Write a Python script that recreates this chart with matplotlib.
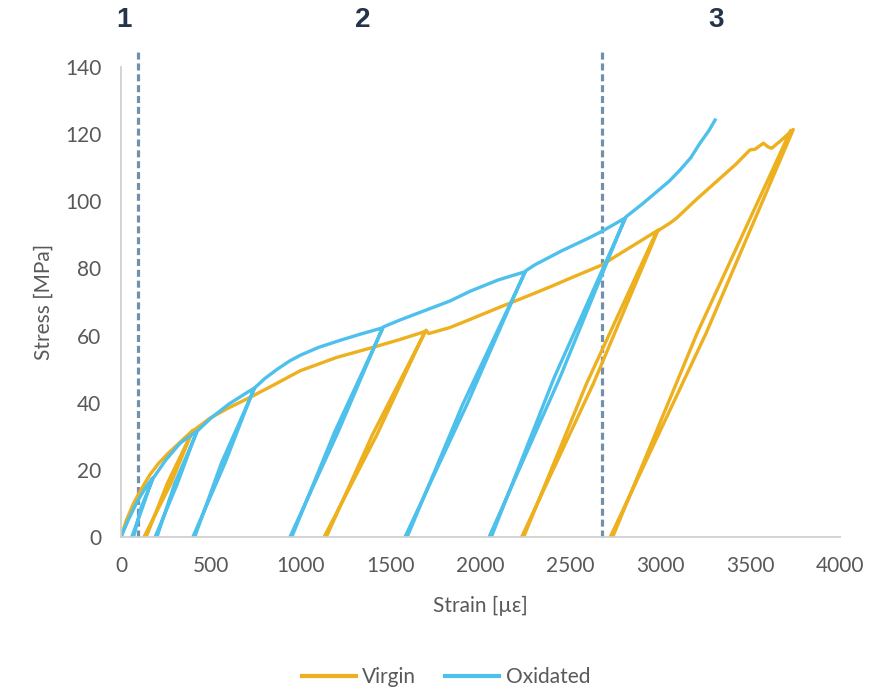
import matplotlib.pyplot as plt

# stress-strain paths with loading / unloading cycles
virgin_strain = [0, 30, 70, 110, 160, 210, 260, 330, 400,
                 278, 128, 140, 258, 398,
                 495, 600, 707, 850, 996, 1200, 1402, 1550, 1691,
                 1425, 1130, 1142, 1400, 1697, 1712,
                 1830, 1923, 2100, 2300, 2400, 2500, 2674, 2800, 2988,
                 2628, 2229, 2240, 2590, 2980,
                 3054, 3091, 3200, 3332, 3420, 3499, 3527, 3574, 3600, 3620, 3680, 3740,
                 3255, 2722, 2735, 3205, 3725]
virgin_stress = [0, 5, 10, 14, 18.5, 22, 24.8, 28.3, 31.8,
                 16, 0, 0, 16, 31.5,
                 35.4, 38.5, 41.3, 45.3, 49.5, 53.5, 56.5, 58.8, 61.2,
                 30.6, 0, 0, 30.6, 61.6, 60.6,
                 62.4, 64.4, 68.3, 72.6, 74.8, 77.1, 81, 85.2, 91.4,
                 45.7, 0, 0, 45.7, 91,
                 93.5, 95, 100.5, 106.8, 111, 115.3, 115.5, 117.3, 116.2, 115.8, 118.5, 121.4,
                 60.7, 0, 0, 60.7, 121]

oxidated_strain = [0, 40, 90, 140, 175,
                   120, 60, 70, 112, 180,
                   250, 330, 421,
                   313, 190, 200, 298, 425,
                   500, 600, 700, 740,
                   580, 400, 410, 560, 745,
                   800, 870, 940, 1000, 1100, 1220, 1330, 1455,
                   1207, 940, 950, 1188, 1460,
                   1550, 1663, 1830, 1942, 2100, 2247,
                   1925, 1580, 1592, 1901, 2252,
                   2300, 2450, 2600, 2674, 2804,
                   2442, 2048, 2060, 2410, 2810,
                   2900, 2962, 3050, 3110, 3170, 3221, 3270, 3305]
oxidated_stress = [0, 5, 10.5, 15, 17.5,
                   8.8, 0, 0, 8.8, 17.6,
                   23, 28, 31.5,
                   15.8, 0, 0, 15.8, 31.6,
                   35.4, 39.6, 43, 44.3,
                   22.2, 0, 0, 22.2, 44.5,
                   47.2, 50, 52.5, 54.2, 56.5, 58.6, 60.4, 62.3,
                   31.2, 0, 0, 31.2, 62.6,
                   64.6, 66.9, 70.3, 73.2, 76.6, 79,
                   39.5, 0, 0, 39.5, 79.3,
                   81, 85.2, 89, 91, 95,
                   47.5, 0, 0, 47.5, 95.4,
                   99.2, 102, 106, 109.3, 113, 117.3, 121, 124.2]

region_bounds = [95, 2675]
region_labels = ['1', '2', '3']
region_label_x = [17, 1347, 3311]

plt.rcParams['font.family'] = ['Lato', 'DejaVu Sans']

fig = plt.figure(figsize=(8.76, 6.9), dpi=100)
ax = fig.add_axes([0.1381, 0.2217, 0.8208, 0.6812])

ax.plot(virgin_strain, virgin_stress, color='#EDB01F', lw=2.4, label='Virgin',
        solid_joinstyle='round')
ax.plot(oxidated_strain, oxidated_stress, color='#4DC0EC', lw=2.4, label='Oxidated',
        solid_joinstyle='round')

for xb in region_bounds:
    ax.plot([xb, xb], [0, 144.5], color='#7190AB', lw=2.3,
            linestyle=(0, (2.2, 1.2)), clip_on=False, zorder=1)

for lab, xl in zip(region_labels, region_label_x):
    ax.text(xl, 154, lab, ha='center', va='center', fontsize=20,
            fontweight='bold', color='#253448', family=['Liberation Sans', 'DejaVu Sans'])

ax.set_xlim(0, 4000)
ax.set_ylim(0, 140)
ax.set_xticks(range(0, 4001, 500))
ax.set_yticks(range(0, 141, 20))
ax.tick_params(length=0, labelsize=15, labelcolor='#595959', pad=14)

for side in ['top', 'right']:
    ax.spines[side].set_visible(False)
for side in ['left', 'bottom']:
    ax.spines[side].set_color('#D0D0D0')
    ax.spines[side].set_linewidth(1.3)

ax.set_xlabel('Strain [µε]', fontsize=15, color='#595959', labelpad=14)
ax.set_ylabel('Stress [MPa]', fontsize=15, color='#595959', labelpad=8)

fig.legend(loc='center', bbox_to_anchor=(0.509, 0.019), ncol=2, frameon=False,
           fontsize=15, labelcolor='#595959', handlelength=2.6,
           handletextpad=0.3, columnspacing=1.4)
for line in fig.legends[0].get_lines():
    line.set_linewidth(3)

fig.savefig('out.png', dpi=100)
